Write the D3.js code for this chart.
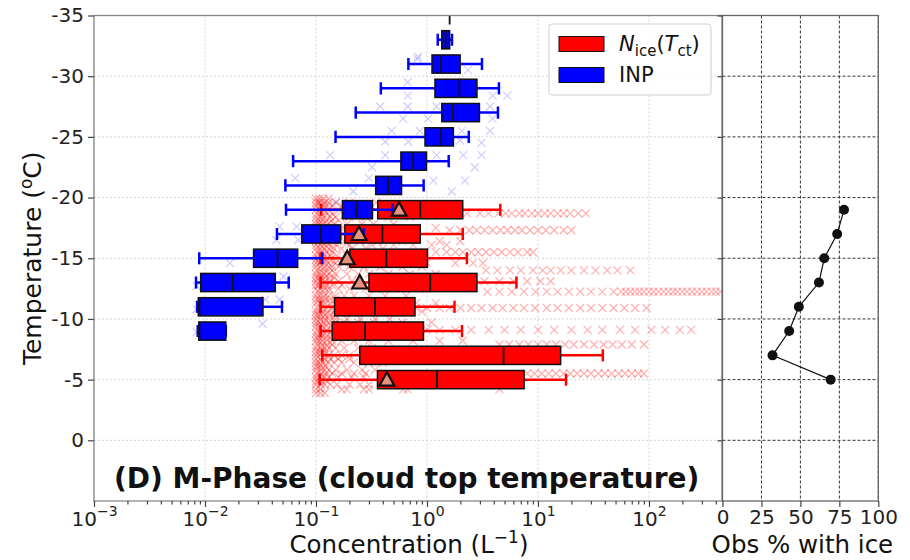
<!DOCTYPE html>
<html><head><meta charset="utf-8">
<script src="https://cdn.jsdelivr.net/npm/d3@7"></script>
<style>
html,body{margin:0;padding:0;background:#fff;}
svg{display:block;font-family:"DejaVu Sans",sans-serif;}
</style></head><body>
<svg id="chart" width="910" height="560"></svg>
<script>
// ---- Ice number concentration, binned by cloud-top temperature (L^-1) ----
const iceTemps = [-19, -17, -15, -13, -11, -9, -7, -5];
const iceLow   = [0.111, 0.11, 0.11, 0.11, 0.11, 0.11, 0.114, 0.108];
const iceQ1    = [0.36, 0.182, 0.202, 0.30, 0.147, 0.14, 0.248, 0.358];
const iceMed   = [0.87, 0.397, 0.431, 1.07, 0.34, 0.277, 4.9, 1.23];
const iceQ3    = [2.1, 0.87, 1.01, 2.82, 0.78, 0.93, 16, 7.5];
const iceHigh  = [4.58, 2.1, 2.29, 6.4, 1.77, 2.07, 38.4, 17.9];
const iceMean  = [0.56, 0.244, 0.191, 0.248, null, null, null, 0.435];

// ---- INP concentration by temperature (L^-1) ----
const inpTemps = [-35, -33, -31, -29, -27, -25, -23, -21, -19, -17, -15, -13, -11, -9];
const inpLow   = [1.6, 1.25, 0.68, 0.384, 0.228, 0.15, 0.0622, 0.053, 0.0537, 0.0445, 0.00887, 0.0083, 0.0085, 0.0086];
const inpQ1    = [1.6, 1.36, 1.11, 1.18, 1.36, 0.96, 0.582, 0.345, 0.173, 0.0745, 0.0274, 0.00914, 0.0087, 0.0088];
const inpMed   = [1.6, 1.47, 1.34, 1.96, 1.71, 1.34, 0.75, 0.446, 0.233, 0.111, 0.045, 0.0178, 0.0089, 0.0089];
const inpQ3    = [1.6, 1.6, 1.99, 2.82, 2.97, 1.73, 0.99, 0.59, 0.323, 0.167, 0.0684, 0.043, 0.0333, 0.0154];
const inpHigh  = [1.6, 1.68, 3.13, 4.45, 4.36, 2.38, 1.57, 0.933, 0.49, 0.269, 0.114, 0.0568, 0.0494, 0.0154];

// ---- Percentage of observations with ice, per temperature bin ----
const iceFrac = [78, 73.6, 65.3, 61.9, 49, 42.8, 32.1, 69.4];

// ---- Individual ice observations: [cloud-top temperature, concentrations] ----
const iceObs = [
  [-19.9, [0.1, 0.107, 0.116, 0.13]],
  [-19.6, [0.1, 0.105, 0.11, 0.12, 0.13, 0.15, 0.2, 0.35]],
  [-19.3, [0.1, 0.11, 0.115, 0.125, 0.14, 0.17, 0.24, 0.42, 0.6]],
  [-19.0, [0.1, 0.108, 0.118, 0.13, 0.16, 0.3, 0.5, 0.9, 1.4]],
  [-18.7, [0.102, 0.112, 0.125, 0.14, 0.19, 1.1, 1.6, 2.3, 3.0, 3.6, 4.4, 5.1, 5.8, 6.8, 7.6, 8.8, 10, 11.5, 13, 15, 17, 19.5, 23, 27]],
  [-18.4, [0.1, 0.11, 0.12, 0.135, 0.15, 0.2, 0.28, 0.45, 0.7]],
  [-18.1, [0.1, 0.106, 0.114, 0.124, 0.138, 0.16]],
  [-17.8, [0.1, 0.107, 0.116, 0.127, 0.145, 0.19, 0.26, 0.33, 0.5]],
  [-17.5, [0.1, 0.11, 0.12, 0.13, 0.17, 0.23, 0.3, 0.55, 0.8, 1.2]],
  [-17.3, [0.104, 0.114, 0.13, 0.15, 1.6, 2.0, 2.4, 2.8, 3.3, 3.9, 4.6, 5.3, 6.2, 7.2, 8.5, 10, 11.8, 14, 17, 20]],
  [-17.0, [0.1, 0.11, 0.12, 0.135, 0.16, 0.22, 0.3, 0.4]],
  [-16.7, [0.1, 0.105, 0.113, 0.122, 0.133, 0.15]],
  [-16.4, [0.1, 0.106, 0.115, 0.125, 0.14, 0.18, 0.25, 0.36, 0.6, 1.3, 2.0]],
  [-16.1, [0.1, 0.11, 0.12, 0.13, 0.15, 0.2, 0.32, 0.5, 0.75, 1.1, 1.5]],
  [-15.8, [0.1, 0.108, 0.118, 0.13, 0.145, 0.17, 0.21, 0.28, 0.4]],
  [-15.5, [0.103, 0.113, 0.125, 0.14, 0.95, 1.2, 1.5, 1.8, 2.1, 2.5, 2.9, 3.4, 4.0, 4.7, 5.6, 6.6, 8.0, 9.0]],
  [-15.2, [0.1, 0.11, 0.12, 0.135, 0.155, 0.19, 0.24, 0.33, 0.5]],
  [-14.9, [0.1, 0.106, 0.114, 0.123, 0.135, 0.152]],
  [-14.6, [0.1, 0.107, 0.117, 0.13, 0.15, 0.18, 0.25, 0.35, 0.55, 1.0, 1.8, 2.6, 3.2]],
  [-14.3, [0.1, 0.11, 0.12, 0.13, 0.14, 0.16, 0.2, 0.27, 0.38, 0.6, 0.9]],
  [-14.0, [0.102, 0.112, 0.124, 0.14, 3.4, 4.3, 5.6, 7.0, 9.0, 11, 13, 16, 20, 26, 33, 42, 52, 68]],
  [-13.7, [0.1, 0.108, 0.118, 0.13, 0.15, 0.19, 0.24, 0.3, 0.45, 0.7, 1.2]],
  [-13.4, [0.1, 0.105, 0.112, 0.121, 0.132, 0.146]],
  [-13.1, [0.1, 0.11, 0.12, 0.135, 0.16, 0.21, 2.5, 3.3, 4.5, 6, 8, 10.5, 13]],
  [-12.8, [0.1, 0.106, 0.115, 0.125, 0.14, 0.17, 0.23, 0.32, 0.48, 0.7]],
  [-12.5, [0.1, 0.11, 0.12, 0.13, 0.16, 0.2, 0.28, 0.4, 0.6, 1.0]],
  [-12.25, [0.104, 0.114, 0.13, 3.5, 4.5, 5.8, 7.5, 9.5, 12, 15, 19, 24, 30, 38, 48, 56, 62, 68, 75, 82, 90, 100, 110, 122, 135, 150, 165, 180, 200, 220, 245, 270, 300, 330, 365, 400, 440]],
  [-11.9, [0.1, 0.108, 0.118, 0.13, 0.15, 0.18, 0.22, 0.3, 0.42, 0.65]],
  [-11.6, [0.1, 0.106, 0.113, 0.122, 0.134, 0.15]],
  [-11.3, [0.1, 0.11, 0.12, 0.135, 0.16, 0.2, 0.26, 0.35, 0.5, 0.8, 1.2]],
  [-10.9, [0.103, 0.113, 0.125, 0.14, 0.8, 1.0, 1.3, 1.6, 2.0, 2.5, 3.1, 3.9, 4.8, 6, 7.5, 9.4, 12, 15, 19, 24, 30, 38, 48, 60, 75, 95]],
  [-10.6, [0.1, 0.106, 0.116, 0.128, 0.145, 0.17, 0.21, 0.27, 0.36, 0.5, 0.9]],
  [-10.3, [0.1, 0.105, 0.112, 0.121, 0.133, 0.148]],
  [-10.0, [0.1, 0.11, 0.12, 0.13, 0.15, 0.19, 0.25, 0.34, 0.46]],
  [-9.7, [0.1, 0.107, 0.117, 0.13, 0.15, 0.18, 0.24, 0.33, 0.6, 1.1]],
  [-9.4, [0.1, 0.106, 0.114, 0.124, 0.137]],
  [-9.1, [0.102, 0.112, 0.124, 0.14, 1.0, 1.3, 1.8, 2.5, 3.6, 5, 7, 10, 14, 20, 28, 38, 55, 75, 105, 140, 190, 240]],
  [-8.8, [0.1, 0.11, 0.12, 0.135, 0.155, 0.19, 0.26, 0.38, 0.6]],
  [-8.5, [0.1, 0.105, 0.113, 0.122, 0.134]],
  [-8.2, [0.1, 0.106, 0.115, 0.126, 0.14, 0.17, 0.22, 0.3, 0.45, 0.75, 1.3, 2.1]],
  [-7.9, [0.103, 0.113, 0.125, 0.14, 4.5, 5.5, 6.8, 8.2, 10, 12, 14.5, 17.5, 21, 26, 32, 39, 47, 57, 70, 90]],
  [-7.6, [0.1, 0.11, 0.12, 0.13, 0.15, 0.18, 0.24, 0.32]],
  [-7.3, [0.1, 0.106, 0.114, 0.124]],
  [-7.0, [0.1, 0.108, 0.118, 0.13, 0.145, 0.17, 0.2]],
  [-6.7, [0.1, 0.11, 0.12, 0.135, 0.16, 0.2, 0.26]],
  [-6.4, [0.1, 0.106, 0.116, 0.128, 0.145, 0.17, 0.22, 0.3, 0.4]],
  [-6.1, [0.1, 0.105, 0.112, 0.122]],
  [-5.8, [0.1, 0.11, 0.12, 0.13, 0.15, 0.19, 0.26, 0.34]],
  [-5.5, [0.102, 0.112, 0.124, 0.14, 0.17, 0.22, 0.28, 8, 9.3, 10.8, 12.5, 14.5, 17, 19.5, 22.5, 26, 30, 35, 40, 46, 53, 61, 70, 80, 90]],
  [-5.2, [0.1, 0.108, 0.118, 0.13, 0.16, 0.21, 0.27]],
  [-4.9, [0.1, 0.105, 0.113, 0.124]],
  [-4.6, [0.1, 0.11, 0.12, 0.135, 0.155, 0.2, 0.25, 0.3]],
  [-4.2, [0.1, 0.11, 0.17, 0.19, 0.27, 0.3, 0.61, 0.67, 4.5]],
  [-3.9, [0.1, 0.11, 0.12]]
];

// ---- Individual INP samples: [temperature, concentration] ----
const inpObs = [
  [-31.6, 0.83], [-31.4, 0.82], [-30.5, 2.34], [-29.5, 0.67], [-28.4, 0.67], [-28.4, 3.9], [-28.4, 5.3],
  [-27.5, 0.38], [-27.5, 0.67], [-27.5, 1.22], [-27.5, 3.7], [-26.5, 0.61], [-26.5, 1.02], [-26.5, 3.9],
  [-25.5, 0.48], [-25.5, 0.86], [-25.5, 2.06], [-25.5, 3.7], [-24.6, 0.42], [-24.6, 0.68], [-24.7, 1.98],
  [-24.5, 3.1], [-23.5, 0.134], [-23.5, 0.42], [-23.5, 1.22], [-23.5, 2.12], [-23.5, 3.1], [-22.5, 0.32],
  [-22.5, 2.7], [-21.6, 0.065], [-21.6, 0.30], [-21.4, 1.14], [-21.4, 2.2], [-20.5, 0.217], [-20.5, 1.67],
  [-19.6, 0.153], [-17.6, 0.047], [-17.6, 0.067], [-16.5, 0.044], [-16.5, 0.069], [-14.6, 0.0168],
  [-13.5, 0.051], [-12.7, 0.0084], [-11.6, 0.047], [-11.6, 0.035], [-10.8, 0.0084], [-9.6, 0.033], [-8.9, 0.0084]
];

// ---- Axis ticks ----
const decadeTicks = [-3, -2, -1, 0, 1, 2];
const tempTicks = [-35, -30, -25, -20, -15, -10, -5, 0];
const fracTicks = [0, 25, 50, 75, 100];

// ---------------------------------------------------------------
const svg = d3.select("#chart");
const FONT = '"DejaVu Sans", sans-serif';
const RED = "#ff0000", BLUE = "#0000ff";

const x = d3.scaleLog().domain([1e-3, 455]).range([94, 722]);
const y = d3.scaleLinear().domain([5, -35]).range([501, 15.5]);
const p = d3.scaleLinear().domain([0, 100]).range([722.5, 878.3]);

const [X0, X1] = x.range();
const [Y1, Y0] = y.range();
const [P0, P1] = p.range();

svg.append("defs").append("clipPath").attr("id", "clipMain")
  .append("rect").attr("x", X0).attr("y", Y0).attr("width", X1 - X0).attr("height", Y1 - Y0);

// gridlines, main panel
const grid = svg.append("g").attr("stroke", "#d4d4d4").attr("stroke-width", 1).attr("stroke-dasharray", "2,2");
decadeTicks.forEach(k => {
  grid.append("line").attr("x1", x(10 ** k)).attr("x2", x(10 ** k)).attr("y1", Y0).attr("y2", Y1);
});
tempTicks.forEach(t => {
  grid.append("line").attr("x1", X0).attr("x2", X1).attr("y1", y(t)).attr("y2", y(t));
});

// gridlines, side panel
const grid2 = svg.append("g").attr("stroke", "#333").attr("stroke-width", 1).attr("stroke-dasharray", "3,2");
fracTicks.forEach(v => {
  grid2.append("line").attr("x1", p(v)).attr("x2", p(v)).attr("y1", Y0).attr("y2", Y1);
});
tempTicks.forEach(t => {
  grid2.append("line").attr("x1", P0).attr("x2", P1).attr("y1", y(t)).attr("y2", y(t));
});

const main = svg.append("g").attr("clip-path", "url(#clipMain)");

const xMark = (s) => `M${-s},${-s}L${s},${s}M${-s},${s}L${s},${-s}`;

// individual observations
const obsG = main.append("g");
iceObs.forEach(([t, vals]) => {
  vals.forEach(v => {
    obsG.append("path").attr("d", xMark(4))
      .attr("transform", `translate(${x(v)},${y(t)})`)
      .attr("stroke", RED).attr("stroke-width", 1.3).attr("stroke-opacity", 0.3).attr("fill", "none");
  });
});
inpObs.forEach(([t, v]) => {
  obsG.append("path").attr("d", xMark(4))
    .attr("transform", `translate(${x(v)},${y(t)})`)
    .attr("stroke", BLUE).attr("stroke-width", 1.2).attr("stroke-opacity", 0.2).attr("fill", "none");
});

// box plots
const BOX = 1.5, CAP = 1.0;
function drawBoxes(g, temps, lo, q1, med, q3, hi, color) {
  temps.forEach((t, i) => {
    const yc = y(t), hb = (y(t + BOX / 2) - y(t - BOX / 2)) / 2, hc = (y(t + CAP / 2) - y(t - CAP / 2)) / 2;
    const w = g.append("g").attr("stroke", color).attr("stroke-width", 2.5);
    w.append("line").attr("x1", x(lo[i])).attr("x2", x(q1[i])).attr("y1", yc).attr("y2", yc);
    w.append("line").attr("x1", x(q3[i])).attr("x2", x(hi[i])).attr("y1", yc).attr("y2", yc);
    if (hi[i] > lo[i]) {
      w.append("line").attr("x1", x(lo[i])).attr("x2", x(lo[i])).attr("y1", yc - hc).attr("y2", yc + hc);
      w.append("line").attr("x1", x(hi[i])).attr("x2", x(hi[i])).attr("y1", yc - hc).attr("y2", yc + hc);
    }
    g.append("rect").attr("x", x(q1[i])).attr("y", yc - hb)
      .attr("width", Math.max(0, x(q3[i]) - x(q1[i]))).attr("height", 2 * hb)
      .attr("fill", color).attr("stroke", "#111").attr("stroke-width", 1.5);
    g.append("line").attr("x1", x(med[i])).attr("x2", x(med[i])).attr("y1", yc - hb).attr("y2", yc + hb)
      .attr("stroke", "#111").attr("stroke-width", 1.8);
  });
}
drawBoxes(main.append("g"), iceTemps, iceLow, iceQ1, iceMed, iceQ3, iceHigh, RED);
drawBoxes(main.append("g"), inpTemps, inpLow, inpQ1, inpMed, inpQ3, inpHigh, BLUE);

// mean markers
iceTemps.forEach((t, i) => {
  if (iceMean[i] == null) return;
  main.append("path").attr("d", "M0,-7.5L7.5,6L-7.5,6Z")
    .attr("transform", `translate(${x(iceMean[i])},${y(t)})`)
    .attr("fill", "#e8917f").attr("stroke", "#111").attr("stroke-width", 2.2).attr("stroke-linejoin", "miter");
});

// side panel: fraction of observations with ice
const line = d3.line().x((d, i) => p(d)).y((d, i) => y(iceTemps[i]));
svg.append("path").datum(iceFrac).attr("d", line).attr("fill", "none").attr("stroke", "#111").attr("stroke-width", 1.2);
svg.append("g").selectAll("circle").data(iceFrac).join("circle")
  .attr("cx", d => p(d)).attr("cy", (d, i) => y(iceTemps[i])).attr("r", 5).attr("fill", "#111");

// spines
svg.append("rect").attr("x", X0).attr("y", Y0).attr("width", X1 - X0).attr("height", Y1 - Y0)
  .attr("fill", "none").attr("stroke", "#888").attr("stroke-width", 1.3);
svg.append("rect").attr("x", P0).attr("y", Y0).attr("width", P1 - P0).attr("height", Y1 - Y0)
  .attr("fill", "none").attr("stroke", "#666").attr("stroke-width", 1.3);

// axes
function styleAxis(g) {
  g.select(".domain").remove();
  g.selectAll(".tick line").attr("stroke", "#444").attr("stroke-width", 1.2);
  g.selectAll(".tick text").attr("fill", "#222").attr("font-family", FONT).attr("font-size", 20);
}
svg.append("g").attr("transform", `translate(${X0},0)`)
  .call(d3.axisLeft(y).tickValues(tempTicks).tickSize(6).tickPadding(4).tickFormat(d => String(d)))
  .call(styleAxis);
svg.append("g").attr("transform", `translate(${P0},0)`)
  .call(d3.axisLeft(y).tickValues(tempTicks).tickSize(5).tickFormat(""))
  .call(styleAxis);

const minor = [];
for (let k = -3; k <= 2; k++) for (let m = 2; m <= 9; m++) { const v = m * 10 ** k; if (v <= 455) minor.push(v); }
svg.append("g").attr("transform", `translate(0,${Y1})`)
  .call(d3.axisBottom(x).tickValues(minor).tickSize(3.5).tickFormat(""))
  .call(styleAxis);
const xAx = svg.append("g").attr("transform", `translate(0,${Y1})`)
  .call(d3.axisBottom(x).tickValues(decadeTicks.map(k => 10 ** k)).tickSize(6).tickFormat(""))
  .call(styleAxis);
xAx.selectAll(".tick").each(function (d) {
  const k = Math.round(Math.log10(d));
  const t = d3.select(this).append("text").attr("y", 25).attr("text-anchor", "middle")
    .attr("fill", "#222").attr("font-family", FONT).attr("font-size", 20);
  t.append("tspan").text("10");
  t.append("tspan").attr("dy", -10).attr("font-size", 14).text(k < 0 ? "\u2212" + (-k) : String(k));
});
svg.append("g").attr("transform", `translate(0,${Y1})`)
  .call(d3.axisBottom(p).tickValues(fracTicks).tickSize(6).tickPadding(3).tickFormat(d => String(d)))
  .call(styleAxis);

// axis titles
const yl = svg.append("text").attr("transform", `translate(41,${(Y0 + Y1) / 2}) rotate(-90)`)
  .attr("text-anchor", "middle").attr("font-family", FONT).attr("font-size", 25).attr("fill", "#111");
yl.append("tspan").text("Temperature (");
yl.append("tspan").attr("dy", -9).attr("font-size", 17).text("o");
yl.append("tspan").attr("dy", 9).text("C)");

const xl = svg.append("text").attr("x", (X0 + X1) / 2 + 1).attr("y", 553)
  .attr("text-anchor", "middle").attr("font-family", FONT).attr("font-size", 24.5).attr("fill", "#111");
xl.append("tspan").text("Concentration (L");
xl.append("tspan").attr("dy", -10).attr("font-size", 17).text("\u22121");
xl.append("tspan").attr("dy", 10).text(")");

svg.append("text").attr("x", (P0 + P1) / 2 + 2).attr("y", 553).attr("text-anchor", "middle")
  .attr("font-family", FONT).attr("font-size", 24.5).attr("fill", "#111").text("Obs % with ice");

// panel title
svg.append("text").attr("x", 114).attr("y", 488).attr("font-family", FONT).attr("font-weight", "bold")
  .attr("font-size", 28).attr("fill", "#111").text("(D) M-Phase (cloud top temperature)");

// legend
const lg = svg.append("g");
lg.append("rect").attr("x", 549).attr("y", 24).attr("width", 162).attr("height", 71).attr("rx", 3)
  .attr("fill", "#fff").attr("fill-opacity", 0.85).attr("stroke", "#d0d0d0").attr("stroke-width", 1);
const legendItems = [{color: RED, y: 44}, {color: BLUE, y: 75}];
legendItems.forEach(it => {
  lg.append("rect").attr("x", 559).attr("y", it.y - 7.5).attr("width", 45).attr("height", 15)
    .attr("fill", it.color).attr("stroke", "#111").attr("stroke-width", 1);
});
const l1 = lg.append("text").attr("x", 619).attr("y", 51).attr("font-family", FONT).attr("font-size", 21).attr("fill", "#111");
l1.append("tspan").attr("font-style", "italic").text("N");
l1.append("tspan").attr("dy", 5).attr("font-size", 15).text("ice");
l1.append("tspan").attr("dy", -5).text("(");
l1.append("tspan").attr("font-style", "italic").text("T");
l1.append("tspan").attr("dy", 5).attr("font-size", 15).text("ct");
l1.append("tspan").attr("dy", -5).text(")");
lg.append("text").attr("x", 619).attr("y", 82).attr("font-family", FONT).attr("font-size", 21).attr("fill", "#111").text("INP");
</script>
</body></html>
